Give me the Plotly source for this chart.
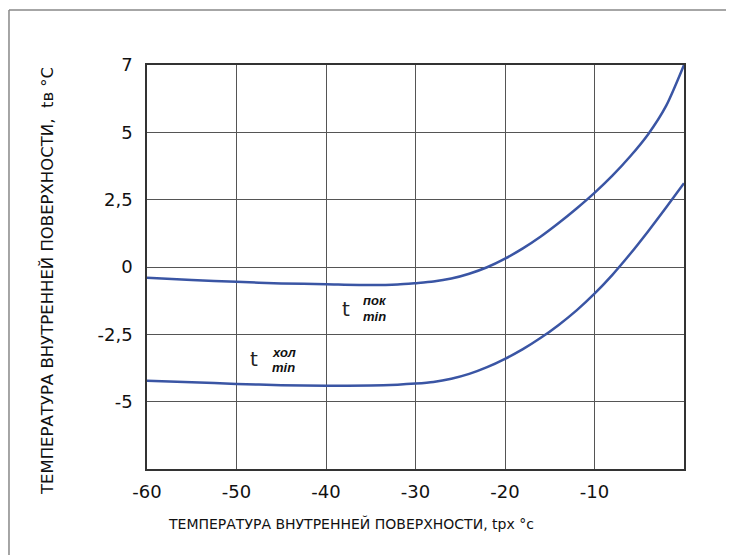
import plotly.graph_objects as go

# data
x_pok = [-60, -55, -50, -45, -40, -35, -32, -30, -28, -26, -24, -22, -20, -18, -16, -14, -12, -10, -8, -6, -4, -2, 0]
y_pok = [-0.40, -0.48, -0.55, -0.61, -0.64, -0.67, -0.65, -0.60, -0.54, -0.43, -0.25, -0.01, 0.31, 0.69, 1.13, 1.63, 2.17, 2.75, 3.39, 4.11, 4.93, 5.98, 7.50]

x_hol = [-60, -55, -50, -45, -40, -35, -32, -30, -28, -26, -24, -22, -20, -18, -16, -14, -12, -10, -8, -6, -4, -2, 0]
y_hol = [-4.22, -4.28, -4.34, -4.39, -4.41, -4.40, -4.37, -4.33, -4.27, -4.15, -3.97, -3.72, -3.41, -3.05, -2.63, -2.15, -1.61, -0.99, -0.29, 0.49, 1.33, 2.21, 3.11]

x_ticks = [-60, -50, -40, -30, -20, -10]
x_ticktext = ["-60", "-50", "-40", "-30", "-20", "-10"]
y_ticks = [7.5, 5, 2.5, 0, -2.5, -5]
y_ticktext = ["7", "5", "2,5", "0", "-2,5", "-5"]

line_color = "#3a55a4"
font_family = "DejaVu Sans"

fig = go.Figure()
for xs, ys in ((x_pok, y_pok), (x_hol, y_hol)):
    fig.add_trace(go.Scatter(x=xs, y=ys, mode="lines",
                             line=dict(color=line_color, width=2.5, shape="spline", smoothing=0.7),
                             showlegend=False, hoverinfo="skip"))

# curve labels
def add_label(xt, yt, sup, xs, ys_sup, ys_sub):
    fig.add_annotation(x=xt, y=yt, text="t", showarrow=False, xanchor="right", yanchor="middle",
                       font=dict(family=font_family, size=20, color="#222"))
    fig.add_annotation(x=xs, y=ys_sup, text="<b><i>" + sup + "</i></b>", showarrow=False,
                       xanchor="left", yanchor="middle", height=13,
                       font=dict(family="Liberation Sans", size=13, color="#111"))
    fig.add_annotation(x=xs, y=ys_sub, text="<b><i>min</i></b>", showarrow=False,
                       xanchor="left", yanchor="middle", height=13,
                       font=dict(family="Liberation Sans", size=13, color="#111"))

add_label(-37.1, -1.55, "пок", -36.1, -1.26, -1.82)
add_label(-47.4, -3.43, "хол", -46.3, -3.17, -3.73)

# axis titles
fig.add_annotation(xref="paper", yref="paper", x=0.3808, y=-0.1337,
                   xanchor="center", yanchor="middle",
                   text="ТЕМПЕРАТУРА ВНУТРЕННЕЙ ПОВЕРХНОСТИ, tpx °c", showarrow=False,
                   font=dict(size=14, family=font_family, color="#111"))
fig.add_annotation(xref="paper", yref="paper", x=-0.1862, y=0.4653, textangle=-90,
                   xanchor="center", yanchor="middle",
                   text="ТЕМПЕРАТУРА ВНУТРЕННЕЙ ПОВЕРХНОСТИ,  tв °C", showarrow=False,
                   font=dict(size=16.5, family=font_family, color="#111"))

grid_color = "#555"
fig.update_layout(
    width=726, height=547,
    margin=dict(l=139, r=50, t=57, b=86),
    paper_bgcolor="white", plot_bgcolor="white",
    font=dict(family=font_family, color="#111"),
    xaxis=dict(range=[-60, 0], tickvals=x_ticks, ticktext=x_ticktext,
               showgrid=True, gridcolor=grid_color, gridwidth=1,
               showline=True, linecolor="#333", linewidth=1.5, mirror=True,
               ticks="", tickfont=dict(size=18, family=font_family), zeroline=False,
               ticklabelstandoff=6),
    yaxis=dict(range=[-7.5, 7.5], tickvals=y_ticks, ticktext=y_ticktext,
               showgrid=True, gridcolor=grid_color, gridwidth=1,
               showline=True, linecolor="#333", linewidth=1.5, mirror=True,
               ticks="", tickfont=dict(size=18, family=font_family), zeroline=False,
               ticklabelstandoff=9),
    shapes=[
        dict(type="line", xref="paper", yref="paper", x0=-0.257, x1=-0.257, y0=-0.215, y1=1.136,
             line=dict(color="#888", width=1.5)),
        dict(type="line", xref="paper", yref="paper", x0=-0.257, x1=1.1, y0=1.136, y1=1.136,
             line=dict(color="#888", width=1.5)),
    ],
)

fig.write_html("out.html")
